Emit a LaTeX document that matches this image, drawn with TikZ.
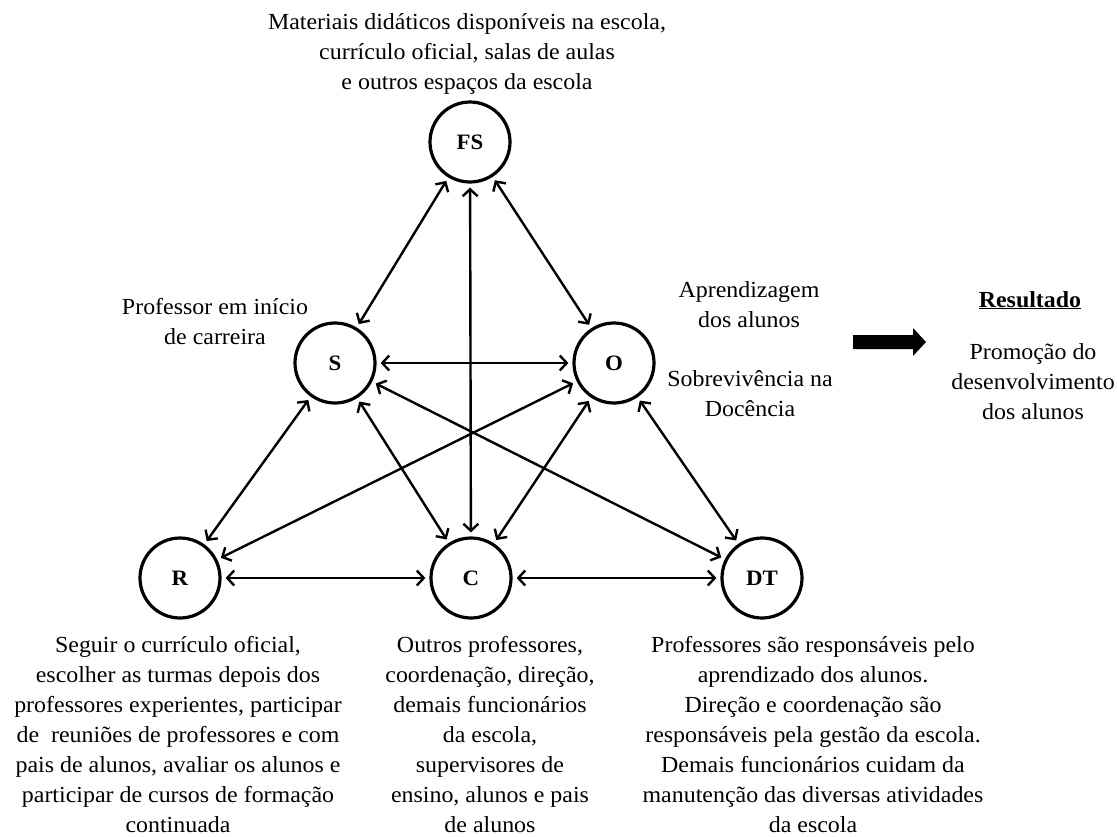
\documentclass[tikz,border=0pt]{standalone}
\usepackage{fontspec}
\setmainfont{Liberation Serif}[FakeStretch=1.04]
\usetikzlibrary{arrows.meta}
\begin{document}
\begin{tikzpicture}[x=1pt,y=-1pt,
  circ/.style={circle, draw, line width=3.2pt, minimum size=80pt, inner sep=0pt, font=\fontsize{22}{26}\selectfont\bfseries},
  link/.style={{Straight Barb[length=7pt,width=15pt]}-{Straight Barb[length=7pt,width=15pt]}, line width=2.4pt, shorten <=4pt, shorten >=4pt},
  lbl/.style={align=center, font=\fontsize{23}{30}\selectfont, inner sep=0pt}]
\useasboundingbox (0,0) rectangle (1117,836);
% circles
\node[circ] (FS) at (470,142) {FS};
\node[circ] (S) at (335,363) {S};
\node[circ] (O) at (614,363) {O};
\node[circ] (R) at (180,578) {R};
\node[circ] (C) at (471,578) {C};
\node[circ] (DT) at (762,578) {DT};
% connectors
\draw[link] (FS) -- (S);
\draw[link] (FS) -- (O);
\draw[link] (FS) -- (C);
\draw[link] (S) -- (O);
\draw[link] (S) -- (R);
\draw[link] (S) -- (C);
\draw[link] (S) -- (DT);
\draw[link] (O) -- (R);
\draw[link] (O) -- (C);
\draw[link] (O) -- (DT);
\draw[link] (R) -- (C);
\draw[link] (C) -- (DT);
% labels
\node[lbl] (tFS) at (467,54) {Materiais didáticos disponíveis na escola,\\currículo oficial, salas de aulas\\e outros espaços da escola};
\node[lbl] (tS) at (215,322) {Professor em início\\de carreira};
\node[lbl] (tO1) at (749,305) {Aprendizagem\\dos alunos};
\node[lbl] (tO2) at (750,394) {Sobrevivência na\\Docência};
\node[lbl, font=\fontsize{23}{30}\selectfont\bfseries, anchor=base] (tRes) at (1030,307) {\underline{Resultado}};
\node[lbl] (tProm) at (1033,382) {Promoção do\\desenvolvimento\\dos alunos};
\node[lbl] (tR) at (178,735) {Seguir o currículo oficial,\\escolher as turmas depois dos\\professores experientes, participar\\de\ \ reuniões de professores e com\\pais de alunos, avaliar os alunos e\\participar de cursos de formação\\continuada};
\node[lbl] (tC) at (490,735) {Outros professores,\\coordenação, direção,\\demais funcionários\\da escola,\\supervisores de\\ensino, alunos e pais\\de alunos};
\node[lbl] (tDT) at (813,735) {Professores são responsáveis pelo\\aprendizado dos alunos.\\Direção e coordenação são\\responsáveis pela gestão da escola.\\Demais funcionários cuidam da\\manutenção das diversas atividades\\da escola};
% big arrow
\fill (853,335) -- (913,335) -- (913,328) -- (926,342) -- (913,356) -- (913,349) -- (853,349) -- cycle;
\end{tikzpicture}
\end{document}
